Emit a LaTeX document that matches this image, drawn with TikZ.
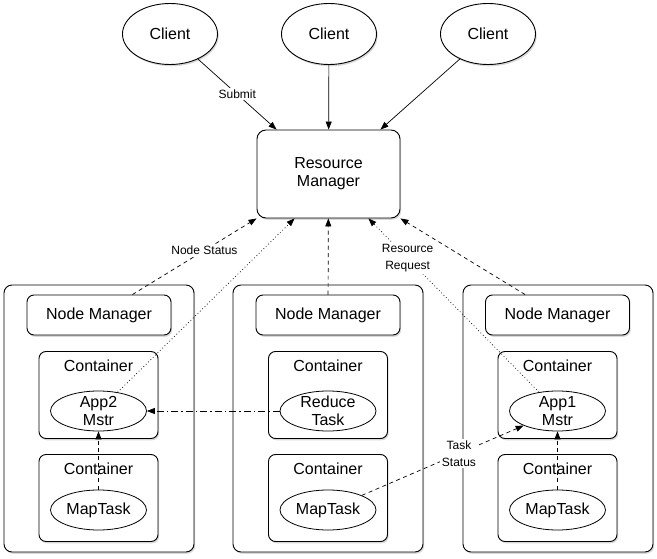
\documentclass[tikz,border=0pt]{standalone}
\usepackage{fontspec}
\setmainfont{Liberation Sans}
\usetikzlibrary{arrows.meta,shapes.geometric,shadows}

\begin{document}
\begin{tikzpicture}[x=1pt,y=-1pt,font=\fontsize{16}{18}\selectfont,
 soft/.style={drop shadow={shadow xshift=1.2pt,shadow yshift=-1.8pt,opacity=0.3}},
 host/.style={draw,line width=0.9pt,rounded corners=8pt,fill=white,minimum width=190pt,minimum height=267pt,soft},
 mgr/.style={draw,line width=0.9pt,rounded corners=7pt,fill=white,minimum width=144pt,minimum height=40pt,soft},
 cont/.style={draw,line width=0.9pt,rounded corners=7pt,fill=white,minimum width=119pt,minimum height=87pt,soft},
 proc/.style={draw,line width=0.8pt,ellipse,fill=white,align=center,inner xsep=0pt,inner ysep=-2pt,minimum width=96pt,minimum height=40pt},
 client/.style={draw,line width=0.9pt,ellipse,fill=white,minimum width=95pt,minimum height=61pt,soft},
 rmbox/.style={draw,line width=0.9pt,rounded corners=9pt,fill=white,align=center,minimum width=143pt,minimum height=88pt,soft},
 note/.style={font=\fontsize{12}{17}\selectfont,fill=white,align=center,inner sep=1.5pt},
 arr/.style={-{Triangle[length=8pt,width=6pt]},line width=0.7pt},
 hb/.style={arr,dash pattern=on 4pt off 3.5pt},
 dotline/.style={arr,dash pattern=on 0.8pt off 2.5pt},
 dd/.style={arr,dash pattern=on 7pt off 3pt on 1.5pt off 3pt}]
\useasboundingbox (0,0) rectangle (657,559);
% clients and resource manager
\node[client] (c1) at (170,34) {Client};
\node[client] (c2) at (329,34) {Client};
\node[client] (c3) at (488,34) {Client};
\node[rmbox] (rm) at (328.5,174) {Resource\\Manager};
% three hosts
\node[host] (h1) at (99,418.5) {};
\node[host] (h2) at (328,418.5) {};
\node[host] (h3) at (558,418.5) {};
\node[mgr] (nm1) at (99,315) {Node Manager};
\node[mgr] (nm2) at (328,315) {Node Manager};
\node[mgr] (nm3) at (557.5,315) {Node Manager};
\node[cont] (k1a) at (98.5,395) {};
\node[cont] (k2a) at (328,395) {};
\node[cont] (k3a) at (557.5,395) {};
\node[cont] (k1b) at (98.5,498) {};
\node[cont] (k2b) at (328,498) {};
\node[cont] (k3b) at (557.5,498) {};
\node (t1a) at (98.5,366) {Container};
\node (t2a) at (328,366) {Container};
\node (t3a) at (557.5,366) {Container};
\node (t1b) at (98.5,469) {Container};
\node (t2b) at (328,469) {Container};
\node (t3b) at (557.5,469) {Container};
\node[proc] (app2) at (98.5,411) {App2\\Mstr};
\node[proc] (reduce) at (328,411) {Reduce\\Task};
\node[proc] (app1) at (557.5,411) {App1\\Mstr};
\node[proc] (map1) at (98.5,510) {MapTask};
\node[proc] (map2) at (328,510) {MapTask};
\node[proc] (map3) at (557.5,510) {MapTask};
% connectors
\draw[arr] (c1) -- node[note]{Submit} ([xshift=20pt]rm.north west);
\draw[arr] (c2) -- (rm);
\draw[arr] (c3) -- ([xshift=-20pt]rm.north east);
\draw[hb] ([xshift=-39pt]nm1.north east) -- node[note,pos=0.58]{Node Status} (rm.south west);
\draw[dotline] (app2) -- ([xshift=38pt]rm.south west);
\draw[hb] (nm2) -- (rm);
\draw[dotline] (app1) -- node[note,pos=0.77]{Resource\\Request} ([xshift=-32pt]rm.south east);
\draw[hb] ([xshift=40pt]nm3.north west) -- (rm.south east);
\draw[dd] (reduce) -- (app2);
\draw[hb] (map1) -- (app2);
\draw[hb] (map3) -- (app1);
\draw[hb] (map2) -- node[note,pos=0.6]{Task\\Status} (app1);
\end{tikzpicture}
\end{document}
